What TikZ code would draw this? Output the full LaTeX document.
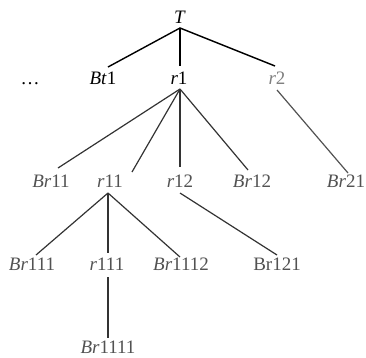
\documentclass[tikz,border=0pt]{standalone}
\usepackage{fontspec}
\setmainfont{Liberation Serif}
\begin{document}
\begin{tikzpicture}[x=1pt,y=-1pt,
  lbl/.style={anchor=base,inner sep=0pt,font=\fontsize{19}{22}\selectfont},
  dark/.style={lbl,text=black},
  mid/.style={lbl,text=black!68},
  light/.style={lbl,text=black!50},
  topline/.style={draw=black,line width=1.4pt},
  subline/.style={draw=black!80,line width=1.2pt},
  lightline/.style={draw=black!68,line width=1.2pt}]
\useasboundingbox (0,0) rectangle (366,357);
% nodes
\node[dark] (T) at (180,23) {\textit{T}};
\node[dark] (dots) at (30,84) {\dots};
\node[dark] (Bt1) at (103,84) {\textit{Bt}1};
\node[dark] (r1) at (179,84) {\textit{r}1};
\node[light] (r2) at (277,84) {\textit{r}2};
\node[mid] (Br11) at (51,187) {\textit{Br}11};
\node[mid] (r11) at (110,187) {\textit{r}11};
\node[mid] (r12) at (180,187) {\textit{r}12};
\node[mid] (Br12) at (252,187) {\textit{Br}12};
\node[mid] (Br21) at (346,187) {\textit{Br}21};
\node[mid] (Br111) at (32,270) {\textit{Br}111};
\node[mid] (r111) at (107,270) {\textit{r}111};
\node[mid] (Br1112) at (181,270) {\textit{Br}1112};
\node[mid] (Br121) at (277,270) {Br121};
\node[mid] (Br1111) at (108,353) {\textit{Br}1111};
% connector end points
\coordinate (jT) at (180,28);
\coordinate (eBt1) at (108,67);
\coordinate (er1) at (180,66);
\coordinate (er2) at (275,66);
\coordinate (jr1) at (180,89);
\coordinate (eBr11) at (58,168);
\coordinate (er11) at (132,172);
\coordinate (er12) at (180,167);
\coordinate (eBr12) at (248,170);
\coordinate (jr2) at (277,90);
\coordinate (eBr21) at (348,173);
\coordinate (jr11) at (108,193);
\coordinate (eBr111) at (36,255);
\coordinate (er111) at (108,253);
\coordinate (eBr1112) at (180,257);
\coordinate (jr12) at (180,193);
\coordinate (eBr121) at (277,255);
\coordinate (jr111) at (108,277);
\coordinate (eBr1111) at (108,338);
% connectors
\draw[topline] (eBt1) -- (jT) -- (er2);
\draw[topline] (jT) -- (er1);
\draw[subline] (jr1) -- (eBr11);
\draw[subline] (jr1) -- (er11);
\draw[subline] (jr1) -- (er12);
\draw[subline] (jr1) -- (eBr12);
\draw[lightline] (jr2) -- (eBr21);
\draw[subline] (jr11) -- (eBr111);
\draw[subline] (jr11) -- (er111);
\draw[subline] (jr11) -- (eBr1112);
\draw[subline] (jr12) -- (eBr121);
\draw[subline] (jr111) -- (eBr1111);
\end{tikzpicture}
\end{document}
